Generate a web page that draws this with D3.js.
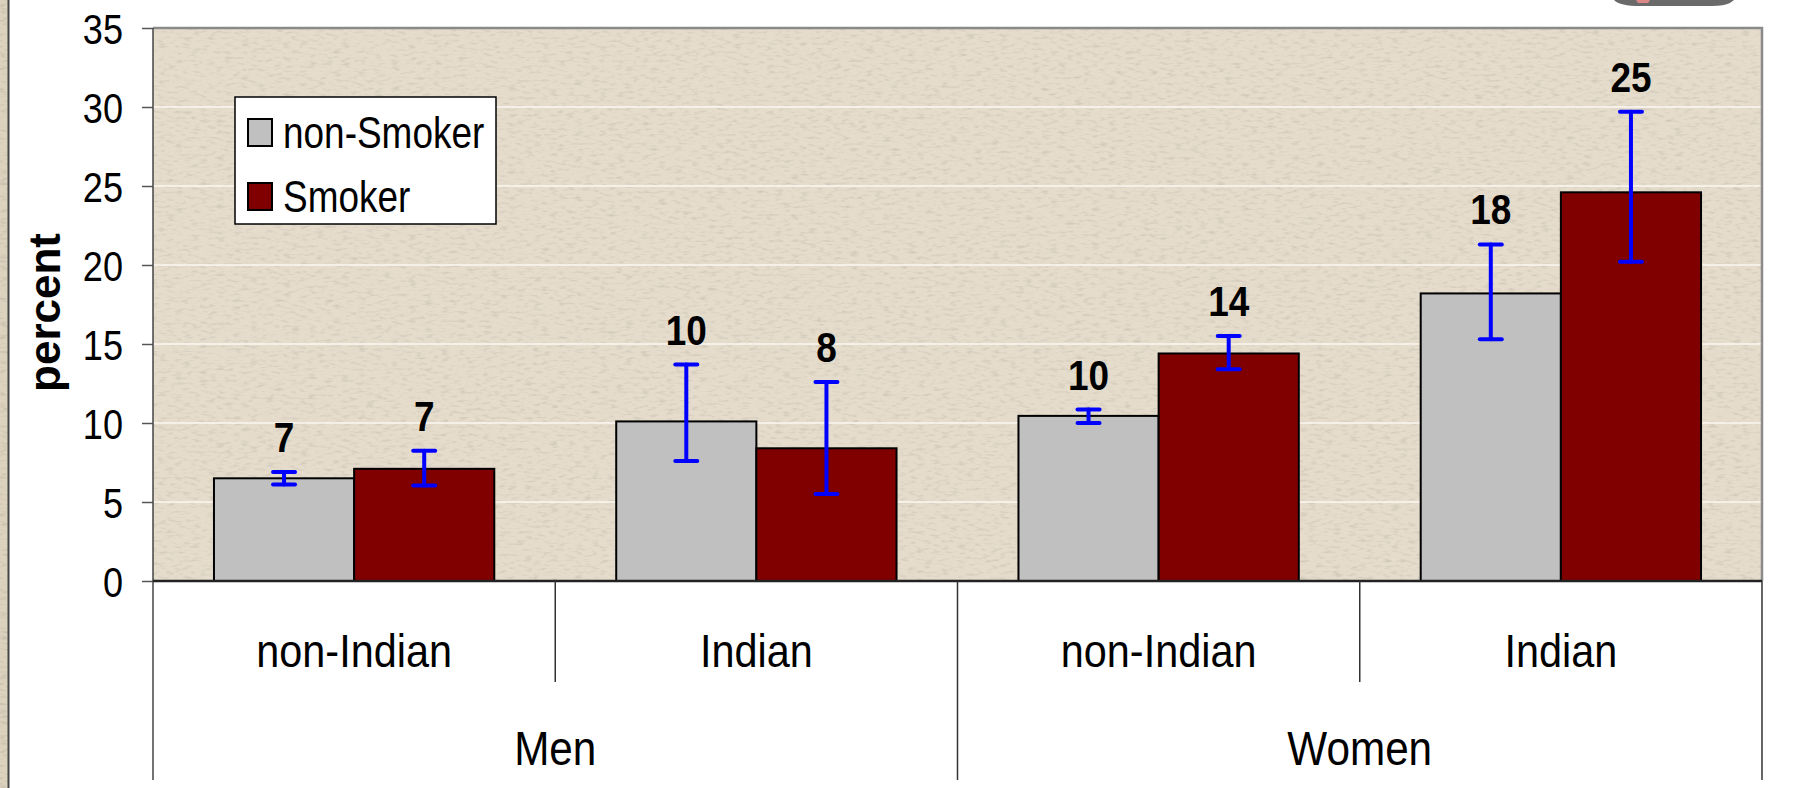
<!DOCTYPE html>
<html>
<head>
<meta charset="utf-8">
<script src="https://cdn.jsdelivr.net/npm/d3@7"></script>
<style>
  html, body { margin: 0; padding: 0; background: #fff; }
  svg { display: block; }
  text { font-family: "Liberation Sans", Arial, sans-serif; fill: #000; }
</style>
</head>
<body>
<div id="chart"></div>
<script>
// Data.
var groups = ['Men', 'Women'];
var categories = ['non-Indian', 'Indian', 'non-Indian', 'Indian'];
var categoryGroup = ['Men', 'Men', 'Women', 'Women'];
var series = ['non-Smoker', 'Smoker'];
var nonSmoker = [6.5, 10.1, 10.45, 18.2];
var smoker = [7.1, 8.4, 14.4, 24.6];
var nonSmokerLow = [6.1, 7.6, 10.0, 15.3];
var nonSmokerHigh = [6.9, 13.7, 10.85, 21.3];
var smokerLow = [6.05, 5.5, 13.4, 20.2];
var smokerHigh = [8.25, 12.6, 15.5, 29.7];
var yTicks = [0, 5, 10, 15, 20, 25, 30, 35];
var colors = ['#c0c0c0', '#800000'];

var W = 1804, H = 788;
var margin = {top: 28, right: 42, bottom: 8, left: 153};
var plotBottom = 581;

var svg = d3.select('#chart').append('svg')
    .attr('width', W)
    .attr('height', H);

// Speckled paper texture.
var defs = svg.append('defs');
var f = defs.append('filter').attr('id', 'grain')
    .attr('x', 0).attr('y', 0).attr('width', 1).attr('height', 1);
f.append('feTurbulence')
    .attr('type', 'fractalNoise')
    .attr('baseFrequency', '0.12 0.35')
    .attr('numOctaves', 2)
    .attr('seed', 7);
f.append('feColorMatrix')
    .attr('type', 'matrix')
    .attr('values', '0 0 0 0 0.5  0 0 0 0 0.46  0 0 0 0 0.38  2.2 0 0 0 -1.1');

var x0 = d3.scaleBand()
    .domain(d3.range(categories.length))
    .range([margin.left, W - margin.right]);

var x1 = d3.scaleBand()
    .domain(series)
    .range([0, x0.bandwidth()])
    .paddingOuter(0.435)
    .paddingInner(0);

var y = d3.scaleLinear()
    .domain([0, 35])
    .range([plotBottom, margin.top]);

var plotW = W - margin.right - margin.left;

// Left textured strip of the page.
svg.append('rect').attr('x', 0).attr('y', 0).attr('width', 8).attr('height', H)
    .attr('fill', '#ddd2bd');
svg.append('rect').attr('x', 0).attr('y', 0).attr('width', 8).attr('height', H)
    .attr('filter', 'url(#grain)').attr('opacity', 0.9);
svg.append('line').attr('x1', 8.5).attr('x2', 8.5).attr('y1', 0).attr('y2', H)
    .attr('stroke', '#444').attr('stroke-width', 2);

// Clipped picture at the top right.
svg.append('path')
    .attr('d', 'M1614,0 L1734,0 L1730,3 Q1724,6 1712,6 L1640,6 Q1620,6 1614,0 Z')
    .attr('fill', '#6a6a6a');
svg.append('path')
    .attr('d', 'M1636,0 L1650,0 L1648,3 L1638,3 Z')
    .attr('fill', '#d88');

// Plot area.
svg.append('rect')
    .attr('x', margin.left).attr('y', margin.top)
    .attr('width', plotW).attr('height', plotBottom - margin.top)
    .attr('fill', '#e5dccc');
svg.append('rect')
    .attr('x', margin.left).attr('y', margin.top)
    .attr('width', plotW).attr('height', plotBottom - margin.top)
    .attr('filter', 'url(#grain)').attr('opacity', 0.6);

// Gridlines.
svg.append('g').selectAll('line')
    .data(yTicks.filter(function(d) { return d > 0 && d < 35; }))
  .enter().append('line')
    .attr('x1', margin.left).attr('x2', W - margin.right)
    .attr('y1', function(d) { return y(d); })
    .attr('y2', function(d) { return y(d); })
    .attr('stroke', '#fbf8f2').attr('stroke-width', 1.5);

// Plot border top/right.
svg.append('path')
    .attr('d', 'M' + margin.left + ',' + margin.top + 'H' + (W - margin.right) + 'V' + plotBottom)
    .attr('fill', 'none').attr('stroke', '#8a8a8a').attr('stroke-width', 2.5);

// Y axis.
var yAxis = d3.axisLeft(y).tickValues(yTicks).tickSize(11).tickPadding(19);
var gy = svg.append('g')
    .attr('transform', 'translate(' + margin.left + ',0)')
    .call(yAxis);
gy.select('.domain').remove();
gy.selectAll('.tick line').attr('stroke', '#555').attr('stroke-width', 1.5);
gy.selectAll('.tick text')
    .attr('font-size', 42)
    .attr('dy', '0.36em')
    .attr('x', null)
    .attr('transform', 'translate(-30,0) scale(0.86,1)')
    .attr('text-anchor', 'end')
    .style('font-family', '"Liberation Sans", Arial, sans-serif');

svg.append('line')
    .attr('x1', margin.left).attr('x2', margin.left)
    .attr('y1', margin.top).attr('y2', H - margin.bottom)
    .attr('stroke', '#444').attr('stroke-width', 1.5);

svg.append('text')
    .attr('transform', 'translate(60,' + ((margin.top + plotBottom) / 2 + 8) + ') rotate(-90)')
    .attr('text-anchor', 'middle')
    .attr('font-size', 44)
    .attr('font-weight', 'bold')
    .text('percent');

// Bars.
var rows = categories.map(function(c, i) {
    return [
        {i: i, s: series[0], v: nonSmoker[i], lo: nonSmokerLow[i], hi: nonSmokerHigh[i], c: colors[0]},
        {i: i, s: series[1], v: smoker[i], lo: smokerLow[i], hi: smokerHigh[i], c: colors[1]}
    ];
});
var points = d3.merge(rows);

var bars = svg.append('g');
bars.selectAll('rect')
    .data(points)
  .enter().append('rect')
    .attr('x', function(d) { return x0(d.i) + x1(d.s); })
    .attr('y', function(d) { return y(d.v); })
    .attr('width', x1.bandwidth())
    .attr('height', function(d) { return y(0) - y(d.v); })
    .attr('fill', function(d) { return d.c; })
    .attr('stroke', '#000').attr('stroke-width', 2);

// Error bars.
var err = svg.append('g')
    .attr('stroke', '#0000ff').attr('stroke-width', 4).attr('stroke-linecap', 'round');
var cx = function(d) { return x0(d.i) + x1(d.s) + x1.bandwidth() / 2; };
err.selectAll('.stem').data(points).enter().append('line')
    .attr('x1', cx).attr('x2', cx)
    .attr('y1', function(d) { return y(d.lo); })
    .attr('y2', function(d) { return y(d.hi); });
['lo', 'hi'].forEach(function(k) {
    err.selectAll('.cap-' + k).data(points).enter().append('line')
        .attr('x1', function(d) { return cx(d) - 11; })
        .attr('x2', function(d) { return cx(d) + 11; })
        .attr('y1', function(d) { return y(d[k]); })
        .attr('y2', function(d) { return y(d[k]); });
});

// Data labels.
svg.append('g').selectAll('text')
    .data(points)
  .enter().append('text')
    .attr('transform', function(d) {
        return 'translate(' + cx(d) + ',' + (y(d.hi) - 20) + ') scale(0.86,1)';
    })
    .attr('text-anchor', 'middle')
    .attr('font-size', 43)
    .attr('font-weight', 'bold')
    .text(function(d) { return Math.round(d.v); });

// Category axis.
svg.append('line')
    .attr('x1', margin.left).attr('x2', W - margin.right)
    .attr('y1', plotBottom).attr('y2', plotBottom)
    .attr('stroke', '#222').attr('stroke-width', 2.5);

var cat = svg.append('g');
cat.selectAll('line')
    .data(d3.range(1, categories.length + 1))
  .enter().append('line')
    .attr('x1', function(i) { return i < categories.length ? x0(i) : x0(i - 1) + x0.bandwidth(); })
    .attr('x2', function(i) { return i < categories.length ? x0(i) : x0(i - 1) + x0.bandwidth(); })
    .attr('y1', plotBottom)
    .attr('y2', function(i) { return (i % 2 === 0) ? H - margin.bottom : 682; })
    .attr('stroke', '#333').attr('stroke-width', 1.5);

cat.selectAll('text')
    .data(categories)
  .enter().append('text')
    .attr('transform', function(d, i) {
        return 'translate(' + (x0(i) + x0.bandwidth() / 2) + ',667) scale(0.9,1)';
    })
    .attr('text-anchor', 'middle')
    .attr('font-size', 46)
    .text(function(d) { return d; });

svg.append('g').selectAll('text')
    .data(groups)
  .enter().append('text')
    .attr('transform', function(g) {
        var idx = d3.range(categories.length).filter(function(i) { return categoryGroup[i] === g; });
        var mid = (x0(idx[0]) + x0(idx[idx.length - 1]) + x0.bandwidth()) / 2;
        return 'translate(' + mid + ',765) scale(0.88,1)';
    })
    .attr('text-anchor', 'middle')
    .attr('font-size', 48)
    .text(function(d) { return d; });

// Legend.
var legend = svg.append('g').attr('transform', 'translate(235,97)');
legend.append('rect')
    .attr('width', 261).attr('height', 127)
    .attr('fill', '#fff').attr('stroke', '#000').attr('stroke-width', 1.5);
var li = legend.selectAll('.item')
    .data(series)
  .enter().append('g')
    .attr('transform', function(d, i) { return 'translate(13,' + (22 + i * 64) + ')'; });
li.append('rect')
    .attr('width', 24).attr('height', 27)
    .attr('fill', function(d, i) { return colors[i]; })
    .attr('stroke', '#000').attr('stroke-width', 2);
li.append('text')
    .attr('transform', 'translate(35,29) scale(0.84,1)')
    .attr('font-size', 44)
    .text(function(d) { return d; });
</script>
</body>
</html>
